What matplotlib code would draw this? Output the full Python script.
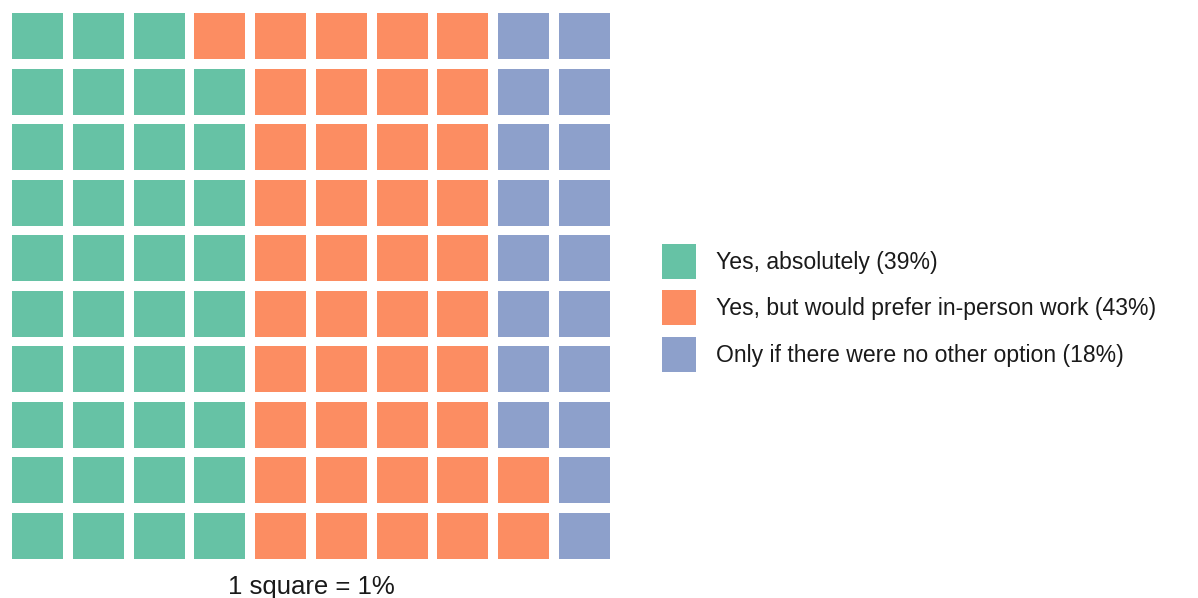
import matplotlib.pyplot as plt
import matplotlib.patches as patches

plt.rcParams['font.family'] = ['Liberation Sans', 'DejaVu Sans']

labels = ["Yes, absolutely", "Yes, but would prefer in-person work",
          "Only if there were no other option"]
percents = [39, 43, 18]
colors = ["#66c2a5", "#fc8d62", "#8da0cb"]

n_rows, n_cols = 10, 10
cell_w, cell_h = 0.84, 0.83

W, H = 1198, 598
fig = plt.figure(figsize=(W / 100, H / 100), dpi=100)
# grid area in pixels: x 12..610, y 13..559 (from top)
ax = fig.add_axes([12 / W, (H - 559) / H, 598 / W, 546 / H])

# fill column by column, bottom to top
k = 0
for cat, n in enumerate(percents):
    for _ in range(n):
        col = k // n_rows
        row = k % n_rows
        ax.add_patch(patches.Rectangle((col, row), cell_w, cell_h,
                                       facecolor=colors[cat], edgecolor="none"))
        k += 1

ax.set_xlim(0, n_cols - 1 + cell_w)
ax.set_ylim(0, n_rows - 1 + cell_h)
ax.axis("off")

# legend sizes (pixels -> units of fontsize)
fs = 16.6
px = fs * 100 / 72
box_w, box_h = 34, 35
# legend box height = fs*(0.65*h + 0.245)
hh = (box_h / px - 0.245) / 0.65

handles = [patches.Patch(facecolor=c, edgecolor="none") for c in colors]
legend_labels = [f"{l} ({p}%)" for l, p in zip(labels, percents)]
fig.legend(handles, legend_labels, loc="upper left",
           bbox_to_anchor=(662 / W, 1 - 244 / H), frameon=False,
           fontsize=fs, borderpad=0, borderaxespad=0,
           handlelength=box_w / px, handleheight=hh,
           handletextpad=20 / px, labelspacing=11.5 / px,
           labelcolor="#1a1a1a")

fig.text(311 / W, 1 - 594 / H, "1 square = 1%", ha="center", va="baseline",
         fontsize=18.5, color="#1a1a1a")

fig.savefig("out.png", dpi=100, facecolor="white")
